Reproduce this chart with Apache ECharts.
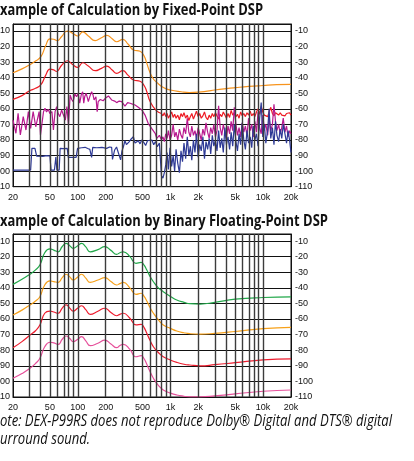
<!DOCTYPE html>
<html><head><meta charset="utf-8">
<script src="https://cdn.jsdelivr.net/npm/echarts@6/dist/echarts.min.js"></script>
<style>html,body{margin:0;padding:0;background:#fff}#c{width:414px;height:461px}</style>
</head><body><div id="c"></div>
<script>
// ---------- axis ticks ----------
const FREQ_TICKS = [20, 50, 100, 200, 500, 1000, 2000, 5000, 10000, 20000];
const FREQ_TICK_LABELS = ['20', '50', '100', '200', '500', '1k', '2k', '5k', '10k', '20k'];
const GRID_FREQS = [30, 40, 50, 60, 70, 80, 90, 100, 200, 300, 400, 500, 600, 700, 800, 900, 1000,
  2000, 3000, 4000, 5000, 6000, 7000, 8000, 9000, 10000];
const DB_TICKS = [-110, -100, -90, -80, -70, -60, -50, -40, -30, -20, -10];

// ---------- chart 1 : Fixed-Point DSP ----------
const fpOrangeFreq = [20, 25, 30, 35, 40, 45, 50, 55, 60, 67, 77, 88, 100, 113, 130, 154, 180, 206, 235, 263, 306, 350, 400, 470, 520, 556, 600, 650, 712, 850, 1000, 1300, 1600, 2000, 2500, 3000, 4000, 5000, 7000, 10000, 14000, 20000];
const fpOrangeDb = [-36.8, -34.3, -31.8, -29.3, -26.5, -19.5, -15, -15.3, -16.2, -13.5, -10, -11.5, -13.2, -10.6, -13.2, -16.2, -14.3, -12.8, -15, -16.9, -15.4, -18.5, -22.2, -23, -26, -30.8, -36.5, -40.5, -43, -46.5, -47.9, -49, -49.5, -49.3, -48.6, -47.9, -47, -46.4, -45.6, -45, -44.5, -44.3];

const fpRedLowFreq = [20, 25, 30, 35, 40, 45, 50, 55, 59, 67, 77, 88, 100, 113, 130, 154, 180, 206, 235, 263, 306, 350, 400, 470, 520, 556, 600, 700, 800];
const fpRedLowDb = [-53.9, -51.5, -48.5, -46.8, -44.5, -38.5, -34.5, -35, -36, -32, -29.1, -31.5, -33.3, -30.4, -32.5, -35.5, -34, -32.5, -35, -37.2, -35.5, -38.5, -41.5, -42.3, -45, -49, -55, -61, -63];

// shared frequency grid of the noisy high band (800 Hz - 20 kHz)
const hfFreq = [800, 830, 860, 890, 920, 950, 990, 1030, 1070, 1110, 1150, 1200, 1250, 1300, 1350, 1400, 1460, 1520, 1580, 1640, 1700, 1770, 1840, 1910, 1990, 2070, 2150, 2240, 2330, 2420, 2520, 2620, 2720, 2830, 2940, 3060, 3180, 3310, 3440, 3580, 3720, 3870, 4020, 4180, 4350, 4520, 4700, 4890, 5090, 5290, 5500, 5720, 5950, 6190, 6440, 6700, 6970, 7250, 7540, 7840, 8150, 8480, 8820, 9170, 9540, 9920, 10300, 10700, 11200, 11600, 12100, 12600, 13100, 13600, 14100, 14700, 15300, 15900, 16500, 17200, 17900, 18600, 19300, 20000];

const fpRedHighDb = [-63, -64.5, -62.5, -65, -63, -66, -64, -62, -65.5, -63.5, -66, -64, -67, -63, -65, -62.5, -66, -64, -67.5, -65, -63, -66.5, -64, -61.5, -65, -63, -66, -64.5, -62, -65.5, -67, -64, -66, -63, -65, -62.5, -64.5, -66.5, -63.5, -65, -62, -64, -66, -63, -65.5, -61, -64, -62.5, -65, -63.5, -66, -62, -64.5, -63, -65, -62.5, -64, -61.5, -64.5, -63, -65, -62, -60, -63.5, -58.5, -62, -64, -63, -65, -62, -59, -63, -64.5, -62.5, -63.5, -64, -62.5, -64, -63, -64.5, -63, -64, -62.5, -64];

const fpMagLowFreq = [20, 21.5, 22.7, 24, 25.8, 27.6, 29.3, 31, 33, 35.2, 38.3, 39.6, 42.7, 44.3, 46, 48, 50, 52.6, 54.6, 56.9, 59.2, 61.5, 64, 67, 70, 73.4, 76.3, 79.4, 82.7, 86, 89.2, 93, 97.2, 101, 105, 109, 113, 116, 119, 123, 127, 130, 135, 141, 146, 150, 157, 162, 166, 175, 188, 200, 214, 232, 250, 263, 280, 298, 323, 345, 367, 390, 415, 450, 491, 532, 575, 626, 684, 712, 760];
const fpMagLowDb = [-67.2, -75.7, -62.9, -76.8, -65, -73.6, -61.8, -72.5, -61.8, -71.5, -61.8, -76.8, -61.8, -59.6, -62, -60.3, -63, -61.8, -73.6, -61.8, -58.6, -63, -65, -60.7, -64, -67.2, -58.6, -70.4, -51.1, -54, -55.4, -50.5, -52.2, -50, -56.4, -51, -49, -56.4, -52, -50, -53, -55.4, -52, -49, -51, -54.3, -52.2, -61.8, -55.4, -54, -54.8, -53, -51.7, -54.3, -55, -56, -55, -55.4, -58.2, -56, -56.4, -57, -57.5, -59, -60.7, -64, -69.3, -72.5, -75.7, -79, -77];
const fpMagHighDb = [-80, -78, -81, -76, -79, -74, -80, -77, -70, -78, -75, -80, -73, -77, -79, -72, -76, -66, -75, -78, -71, -77, -74, -79, -72, -76, -80, -73, -77, -69, -75, -79, -72, -76, -70, -78, -74, -58, -72, -77, -70, -75, -79, -71, -76, -68, -74, -59, -70, -77, -72, -78, -69, -75, -71, -77, -66, -74, -70, -78, -68, -75, -62, -72, -76, -64, -73, -70, -77, -66, -74, -70, -57, -68, -74, -70, -76, -72, -66, -75, -71, -78, -74, -76];

const fpBlueLowFreq = [20, 31, 32, 34.5, 36, 42, 46, 50, 51.5, 56, 58, 59.5, 63, 64.5, 70, 77, 79, 96, 99.5, 110, 120, 128, 135, 141, 145, 160, 182, 205, 220, 232, 237, 245, 250, 262, 275, 290, 300, 312, 323, 335, 345, 360, 375, 398, 415, 430, 450, 470, 490, 515, 540, 565, 590, 630, 660, 690, 720, 760];
const fpBlueLowDb = [-99.3, -99.3, -85.4, -85.4, -90.3, -90.5, -90, -90.3, -99.3, -99.3, -91, -99.3, -99.3, -85.4, -85.6, -85.4, -91.2, -91.2, -85.4, -85, -84.7, -85.5, -86, -91.2, -84.7, -85, -84.7, -85.4, -84.5, -84.7, -92.5, -92.5, -86.4, -84.5, -84, -92.8, -87, -84, -80.5, -83, -83.5, -81, -79.5, -77.9, -82, -82.2, -80.5, -82.5, -80, -81.5, -83.5, -80.5, -81, -80, -83, -81, -84.3, -82];
const fpBlueHighDb = [-103, -104.5, -101, -96, -88, -99, -85, -97, -90, -100, -86, -95, -101, -87, -94, -82, -92, -78, -90, -84, -93, -80, -88, -76, -91, -83, -87, -78, -92, -81, -86, -79, -89, -77, -84, -80, -87, -74, -85, -79, -88, -72, -83, -78, -86, -75, -84, -70, -81, -87, -76, -83, -69, -80, -86, -74, -82, -78, -85, -71, -80, -76, -84, -66, -56, -78, -70, -82, -74, -60, -79, -72, -83, -68, -77, -81, -73, -79, -70, -76, -82, -74, -80, -88];

// ---------- chart 2 : Binary Floating-Point DSP ----------
const bpFreq = [20, 25, 30.5, 35, 39, 44, 50, 55, 61.5, 68, 75, 82, 89, 100, 110, 122, 136, 165, 196, 228, 263, 285, 310, 365, 425, 483, 520, 556, 600, 655, 740, 837, 1000, 1170, 1400, 1620, 2100, 3000, 5000, 10000, 20000];
const bpGreenDb = [-37.8, -34.5, -31.3, -28.5, -25.4, -17.5, -15.1, -15.8, -16.9, -13.5, -11.5, -13, -14.7, -13, -11.5, -13.8, -16.9, -15.5, -13.6, -16, -18.5, -17.5, -16.9, -20, -24.3, -23.7, -25.5, -28.6, -32.5, -36.1, -40, -42.5, -45.5, -47.8, -49.3, -50.2, -50.4, -49.3, -47.3, -46.2, -45.8];
const bpOrangeDb = [-57.4, -54.3, -51, -48.5, -45.7, -38.2, -35.6, -36, -36.5, -33.5, -31.3, -33, -35, -33, -31.3, -33.8, -36.5, -35, -33.5, -36, -38.2, -37.3, -36.5, -40, -44.2, -43.5, -45.5, -48.5, -52.5, -56.3, -60.5, -63.8, -66, -67.7, -68.8, -69.4, -69.7, -69.2, -68, -66.2, -65.3];
const bpRedDb = [-78.4, -74.5, -70.3, -67.5, -63.8, -56.3, -54.9, -55.5, -56.3, -53, -51, -53, -54.9, -53, -51.5, -54, -57, -55, -53.1, -55.8, -57.9, -57, -56.3, -59.5, -63.8, -63.4, -65.5, -69.2, -73.5, -77.8, -81.5, -84.2, -86.3, -87.8, -89, -89.5, -90, -89.3, -88, -86.2, -85.6];
const bpPinkDb = [-98, -95, -91.6, -88.5, -85.2, -77.8, -74.9, -75.3, -76.2, -73, -70.9, -72.5, -74.5, -73, -71.3, -74, -77.1, -75.5, -73.5, -76, -78.4, -77, -76.2, -79.5, -84.2, -83.5, -85.5, -89, -93.5, -98, -102.5, -105.5, -107.5, -108.7, -109.5, -109.9, -109.9, -109.3, -108, -106.3, -105.5];

// ---------- texts ----------
const TITLE_1 = 'Example of Calculation by Fixed-Point DSP';
const TITLE_2 = 'Example of Calculation by Binary Floating-Point DSP';
const NOTE_1 = 'Note: DEX-P99RS does not reproduce Dolby® Digital and DTS® digital';
const NOTE_2 = 'surround sound.';

// ---------- helpers ----------
const lg = Math.log10;
const pairs = (f, d) => f.map((v, i) => [lg(v), d[i]]);
const X_MIN = lg(20), X_MAX = lg(20000);
const Y_MIN = -110, Y_MAX = -5.5;

const PLOT_L = 13, PLOT_R = 291;
const grids = [
  { top: 24, height: 162.7 },
  { top: 234, height: 163 }
];

const chart = echarts.init(document.getElementById('c'), null, { renderer: 'canvas', width: 414, height: 461 });

const xAxes = [], yAxes = [], gridOpts = [], series = [];
grids.forEach((g, gi) => {
  gridOpts.push({ left: PLOT_L, width: PLOT_R - PLOT_L, top: g.top, height: g.height,
    show: true, borderColor: '#111', borderWidth: 1, containLabel: false, outerBoundsMode: 'none' });
  xAxes.push({
    type: 'value', gridIndex: gi, min: X_MIN, max: X_MAX,
    axisLine: { show: true, lineStyle: { color: '#111', width: 1 } },
    axisTick: { show: false }, splitLine: { show: false },
    axisLabel: {
      customValues: FREQ_TICKS.map(lg), margin: 6, fontSize: 9, color: '#111',
      fontFamily: 'Liberation Sans',
      formatter: v => { const i = FREQ_TICKS.findIndex(f => Math.abs(lg(f) - v) < 1e-6); return i >= 0 ? FREQ_TICK_LABELS[i] : ''; }
    }
  });
  const fmt = v => (DB_TICKS.indexOf(Math.round(v * 10) / 10) >= 0 ? String(v) : '');
  yAxes.push({
    type: 'value', gridIndex: gi, position: 'left', min: Y_MIN, max: Y_MAX, interval: 10,
    axisLine: { show: true, lineStyle: { color: '#111' } }, axisTick: { show: false },
    splitLine: { show: true, lineStyle: { color: '#111', width: 1 } },
    axisLabel: { formatter: fmt, margin: 3, fontSize: 9, color: '#111', fontFamily: 'Liberation Sans' }
  });
  yAxes.push({
    type: 'value', gridIndex: gi, position: 'right', min: Y_MIN, max: Y_MAX, interval: 10,
    axisLine: { show: true, lineStyle: { color: '#111' } }, axisTick: { show: false },
    splitLine: { show: false },
    axisLabel: { formatter: fmt, margin: 4, fontSize: 9, color: '#111', fontFamily: 'Liberation Sans' }
  });
  // vertical log grid lines
  series.push({
    type: 'line', xAxisIndex: gi, yAxisIndex: gi * 2, data: [], silent: true, z: 1,
    markLine: {
      silent: true, symbol: ['none', 'none'], animation: false, label: { show: false },
      lineStyle: { type: 'solid', color: '#3c3c3c', width: 1.4 },
      data: GRID_FREQS.map(f => ({ xAxis: lg(f) }))
    }
  });
});

function line(gi, data, color, smooth) {
  return { type: 'line', xAxisIndex: gi, yAxisIndex: gi * 2, data, showSymbol: false, symbol: 'none',
    smooth: smooth ? 0.5 : false, z: 3,
    lineStyle: { color, width: 1.2 }, itemStyle: { color }, animation: false, silent: true };
}

series.push(line(0, pairs(fpOrangeFreq, fpOrangeDb), '#f7941d', true));
series.push(line(0, pairs(fpRedLowFreq, fpRedLowDb), '#ee1c25', true));
series.push(line(0, pairs(hfFreq, fpRedHighDb), '#ee1c25', false));
series.push(line(0, pairs(fpMagLowFreq.concat(hfFreq), fpMagLowDb.concat(fpMagHighDb)), '#b8198f', false));
series.push(line(0, pairs(fpBlueLowFreq.concat(hfFreq), fpBlueLowDb.concat(fpBlueHighDb)), '#2e3a96', false));

series.push(line(1, pairs(bpFreq, bpGreenDb), '#22a84a', true));
series.push(line(1, pairs(bpFreq, bpOrangeDb), '#f7a11a', true));
series.push(line(1, pairs(bpFreq, bpRedDb), '#ee1c2e', true));
series.push(line(1, pairs(bpFreq, bpPinkDb), '#e6519b', true));

// text fitted to the reference widths (first glyph cut off by the left edge)
const mctx = document.createElement('canvas').getContext('2d');
function fitted(full, fontCss, visibleW, y, extra) {
  mctx.font = fontCss;
  const wAll = mctx.measureText(full).width;
  const wVis = mctx.measureText(full.slice(1)).width;
  const s = visibleW / wVis;
  return Object.assign({ type: 'text', x: -(wAll - wVis) * s, y, scaleX: s, silent: true,
    style: Object.assign({ text: full, fill: '#111', verticalAlign: 'middle', align: 'left' }, extra) });
}
const titleFont = { fontFamily: 'Open Sans', fontWeight: 'bold', fontSize: 16.5 };
const noteFont = { fontFamily: 'Open Sans', fontStyle: 'italic', fontSize: 15.5 };
const tCss = 'bold 16.5px "Open Sans"', nCss = 'italic 15.5px "Open Sans"';
const n1 = fitted(NOTE_1, nCss, 392, 422, noteFont);
mctx.font = nCss;
const n2x = -mctx.measureText('s').width * n1.scaleX;
const graphics = [
  fitted(TITLE_1, tCss, 263, 10.5, titleFont),
  fitted(TITLE_2, tCss, 328, 221, titleFont),
  n1,
  { type: 'text', x: n2x, y: 440, scaleX: n1.scaleX, silent: true,
    style: Object.assign({ text: NOTE_2, fill: '#111', verticalAlign: 'middle', align: 'left' }, noteFont) }
];

chart.setOption({
  animation: false,
  backgroundColor: '#fff',
  grid: gridOpts, xAxis: xAxes, yAxis: yAxes, series,
  graphic: graphics
});
</script></body></html>
